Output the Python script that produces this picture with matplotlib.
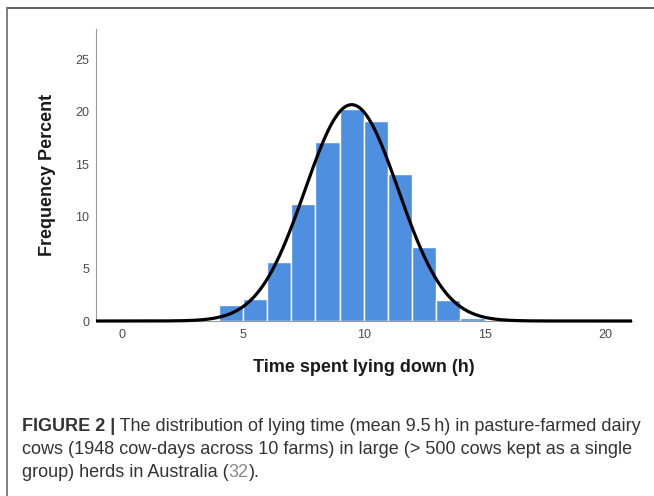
import numpy as np
import matplotlib
matplotlib.use("Agg")
import matplotlib.pyplot as plt
from matplotlib.lines import Line2D

# histogram: 1 h bins, percent of cow-days
BIN_LEFT = [4, 5, 6, 7, 8, 9, 10, 11, 12, 13, 14]
PERCENT = [1.5, 2.1, 5.6, 11.2, 17.1, 20.3, 19.1, 14.0, 7.1, 2.0, 0.3]
BIN_WIDTH = 1.0

# fitted normal curve
MEAN_H = 9.5
SD_H = 1.93

X_TICKS = [0, 5, 10, 15, 20]
Y_TICKS = [0, 5, 10, 15, 20, 25]

BAR_COLOR = "#4f8fe0"
FONT = "Liberation Sans"

fig = plt.figure(figsize=(6.54, 4.96), dpi=100)
ax = fig.add_axes([96 / 654, 1 - 321 / 496, (632 - 96) / 654, (321 - 29) / 496])

ax.bar(BIN_LEFT, PERCENT, width=BIN_WIDTH, align="edge",
       color=BAR_COLOR, edgecolor="white", linewidth=1.0, zorder=2)

x_lo, x_hi = -1.08, 21.1
xs = np.linspace(x_lo, x_hi, 600)
curve = 100 * BIN_WIDTH * np.exp(-0.5 * ((xs - MEAN_H) / SD_H) ** 2) / (SD_H * np.sqrt(2 * np.pi))
ax.plot(xs, curve, color="black", linewidth=2.3, zorder=3, clip_on=False,
        solid_capstyle="butt")

ax.set_xlim(x_lo, x_hi)
ax.set_ylim(0, 27.9)
ax.set_xticks(X_TICKS)
ax.set_yticks(Y_TICKS)
ax.tick_params(length=0, labelsize=9, labelcolor="#4a4a4a")
ax.tick_params(axis="x", pad=6)
ax.tick_params(axis="y", pad=5)
for lab in ax.get_xticklabels() + ax.get_yticklabels():
    lab.set_family(FONT)

for side in ("top", "right"):
    ax.spines[side].set_visible(False)
ax.spines["left"].set_color("#999999")
ax.spines["bottom"].set_color("#999999")

ax.set_ylabel("Frequency Percent", family=FONT, fontsize=13,
              fontweight="bold", color="#1a1a1a", labelpad=14)
ax.set_xlabel("Time spent lying down (h)", family=FONT, fontsize=13,
              fontweight="bold", color="#1a1a1a", labelpad=13)

# figure frame (top and left edges)
fig.add_artist(Line2D([7 / 654, 1.0], [1 - 8 / 496] * 2, transform=fig.transFigure,
                      color="#555555", linewidth=1.3))
fig.add_artist(Line2D([7 / 654] * 2, [1 - 8 / 496, 0.0], transform=fig.transFigure,
                      color="#777777", linewidth=1.3))

# caption
cap_size = 13.0
cap_color = "#333333"
x0 = 22 / 654
lines = [
    [("FIGURE 2 |", "bold", cap_color),
     (" The distribution of lying time (mean 9.5\u2009h) in pasture-farmed dairy", "normal", cap_color)],
    [("cows (1948 cow-days across 10 farms) in large (> 500 cows kept as a single", "normal", cap_color)],
    [("group) herds in Australia (", "normal", cap_color), ("32", "normal", "#8a8a8a"),
     (").", "normal", cap_color)],
]
baselines = [431, 454, 477]

fig.canvas.draw()
renderer = fig.canvas.get_renderer()
for parts, base in zip(lines, baselines):
    x = x0
    for txt, weight, color in parts:
        t = fig.text(x, 1 - base / 496, txt, fontsize=cap_size, fontweight=weight,
                     color=color, family=[FONT, "DejaVu Sans"], va="baseline", ha="left")
        bb = t.get_window_extent(renderer=renderer)
        x += bb.width / fig.bbox.width

fig.savefig("out.png", dpi=100)
